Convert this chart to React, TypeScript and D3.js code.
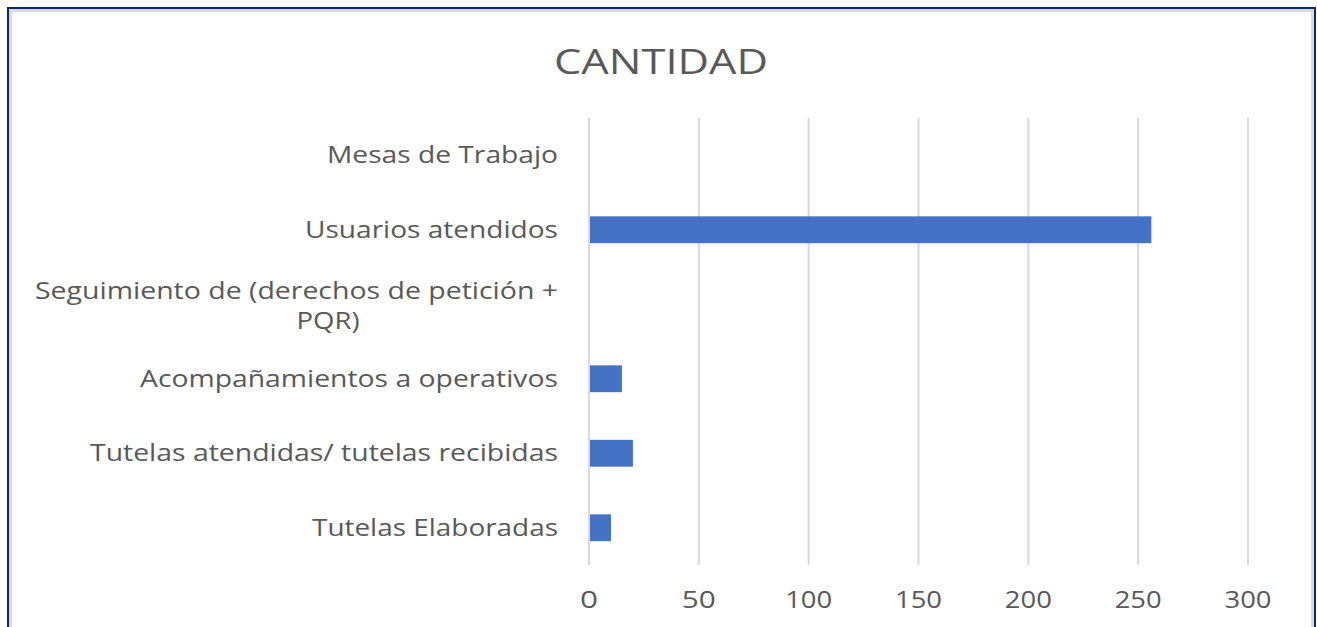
import React from "react";
import * as d3 from "d3";

const categories: string[] = [
  "Mesas de Trabajo",
  "Usuarios atendidos",
  "Seguimiento de (derechos de petición + PQR)",
  "Acompañamientos a operativos",
  "Tutelas atendidas/ tutelas recibidas",
  "Tutelas Elaboradas",
];
const values: number[] = [0, 256, 0, 15, 20, 10];
const tickValues: number[] = [0, 50, 100, 150, 200, 250, 300];
const title = "CANTIDAD";

const W = 1317;
const H = 627;
const FONT = "'Open Sans', 'Liberation Sans', sans-serif";
const TEXT = "#595959";

// rendered text widths (layout only) to mimic the reference's wide lettering
const labelWidth: Record<string, number> = {
  "Mesas de Trabajo": 231,
  "Usuarios atendidos": 253,
  "Seguimiento de (derechos de petición +": 523,
  "PQR)": 63,
  "Acompañamientos a operativos": 418,
  "Tutelas atendidas/ tutelas recibidas": 468,
  "Tutelas Elaboradas": 246,
};
const tickWidthByDigits = [0, 18, 34, 47];

function labelLines(c: string): string[] {
  if (c.startsWith("Seguimiento")) return ["Seguimiento de (derechos de petición +", "PQR)"];
  return [c];
}

export default function App() {
  const x = d3.scaleLinear().domain([0, 300]).range([589, 1248]);
  const y = d3
    .scaleBand<string>()
    .domain(categories)
    .range([118, 565])
    .paddingInner(0.64)
    .paddingOuter(0.32);

  const LFS = 23;

  return (
    <svg
      width={W}
      height={H}
      style={{ position: "absolute", left: 0, top: 0, background: "#fff" }}
      fontFamily={FONT}
    >
      <rect x={0} y={0} width={W} height={H} fill="#fff" />
      <rect x={8} y={8} width={1307} height={700} fill="none" stroke="#0b2a6b" strokeWidth={2} />
      <rect x={10.5} y={10.5} width={1302} height={700} fill="none" stroke="#d9d9d9" strokeWidth={3} />

      <text
        x={661}
        y={74}
        textAnchor="middle"
        fontSize={35}
        fill={TEXT}
        textLength={214}
        lengthAdjust="spacingAndGlyphs"
      >
        {title}
      </text>

      {tickValues.map((t) => (
        <g key={t}>
          <line x1={x(t)} x2={x(t)} y1={118} y2={565} stroke="#d9d9d9" strokeWidth={2} />
          <text
            x={x(t)}
            y={608}
            textAnchor="middle"
            fontSize={LFS}
            fill={TEXT}
            textLength={tickWidthByDigits[String(t).length]}
            lengthAdjust="spacingAndGlyphs"
          >
            {t}
          </text>
        </g>
      ))}

      {categories.map((c, i) => {
        const by = y(c)!;
        return (
          <rect
            key={c}
            x={x(0) + 1}
            y={by}
            width={Math.max(0, x(values[i]) - x(0) - 1)}
            height={y.bandwidth()}
            fill="#4472c4"
          />
        );
      })}

      {categories.map((c) => {
        const cy = y(c)! + y.bandwidth() / 2;
        const lines = labelLines(c);
        if (lines.length === 1) {
          return (
            <text
              key={c}
              x={558}
              y={cy + 8}
              textAnchor="end"
              fontSize={LFS}
              fill={TEXT}
              textLength={labelWidth[c]}
              lengthAdjust="spacingAndGlyphs"
            >
              {c}
            </text>
          );
        }
        return (
          <g key={c}>
            <text
              x={558}
              y={cy - 5}
              textAnchor="end"
              fontSize={LFS}
              fill={TEXT}
              textLength={labelWidth[lines[0]]}
              lengthAdjust="spacingAndGlyphs"
            >
              {lines[0]}
            </text>
            <text
              x={328}
              y={cy + 25}
              textAnchor="middle"
              fontSize={LFS}
              fill={TEXT}
              textLength={labelWidth[lines[1]]}
              lengthAdjust="spacingAndGlyphs"
            >
              {lines[1]}
            </text>
          </g>
        );
      })}
    </svg>
  );
}
